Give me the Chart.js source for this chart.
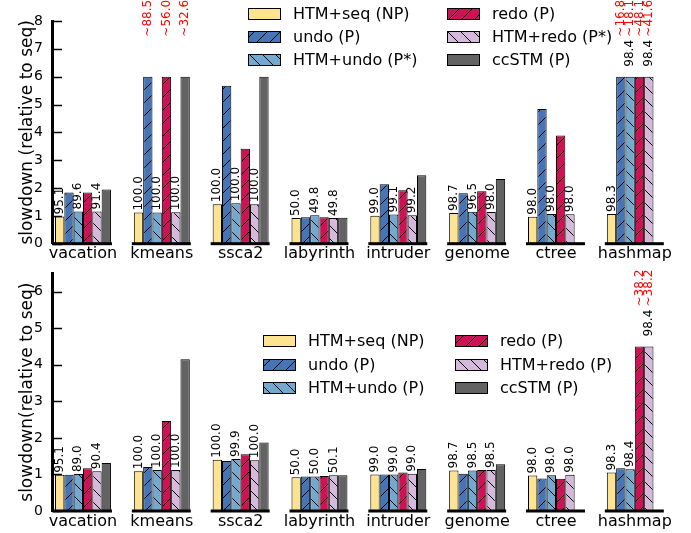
<!DOCTYPE html>
<html><head><meta charset="utf-8">
<script src="https://cdn.jsdelivr.net/npm/chart.js@4"></script>
<style>
html,body{margin:0;padding:0;background:#fff;}
#wrap{position:relative;width:691px;height:533px;overflow:hidden;}
canvas{display:block;}
</style></head><body>
<div id="wrap">
<canvas id="topChart" width="691" height="266"></canvas>
<canvas id="botChart" width="691" height="267"></canvas>
</div>
<script>
// ---------- DATA ----------
const categories = ['vacation','kmeans','ssca2','labyrinth','intruder','genome','ctree','hashmap'];
const topSeriesNames = ['HTM+seq (NP)','undo (P)','HTM+undo (P*)','redo (P)','HTM+redo (P*)','ccSTM (P)'];
const botSeriesNames = ['HTM+seq (NP)','undo (P)','HTM+undo (P)','redo (P)','HTM+redo (P)','ccSTM (P)'];
const topYTicksMax = 8;
const botYTicksMax = 6.5;

// top chart (bars above 6 are drawn cut at 6)
const topHtmSeq  = [0.98, 1.12, 1.42, 0.92, 1.00, 1.10, 0.97, 1.07];
const topUndo    = [1.84, 6.00, 5.67, 0.95, 2.14, 1.81, 4.84, 6.00];
const topHtmUndo = [1.16, 1.12, 1.45, 1.02, 1.05, 1.15, 1.07, 6.00];
const topRedo    = [1.84, 6.00, 3.41, 0.95, 1.92, 1.88, 3.89, 6.00];
const topHtmRedo = [1.16, 1.13, 1.42, 0.92, 1.02, 1.14, 1.06, 6.00];
const topCcstm   = [1.95, 6.00, 6.00, 0.93, 2.46, 2.32, null, null];

const topSeqLbl      = ['95.1','100.0','100.0','50.0','99.0','98.7','98.0','98.3'];
const topHtmUndoLbl  = ['89.6','100.0','100.0','49.8','99.1','96.5','98.0','98.4'];
const topHtmRedoLbl  = ['91.4','100.0','100.0','49.8','99.2','98.0','98.0','98.4'];
const topUndoCut     = [null,'~88.5',null,null,null,null,null,'~16.8'];
const topHtmUndoCut  = [null,null,null,null,null,null,null,'~18.1'];
const topRedoCut     = [null,'~56.0',null,null,null,null,null,'~48.1'];
const topHtmRedoCut  = [null,null,null,null,null,null,null,'~41.6'];
const topCcstmCut    = [null,'~32.6',null,null,null,null,null,null];

// bottom chart
const botHtmSeq  = [0.99, 1.09, 1.40, 0.92, 1.00, 1.11, 0.97, 1.05];
const botUndo    = [0.99, 1.20, 1.37, 0.94, 1.00, 1.02, 0.89, 1.17];
const botHtmUndo = [1.01, 1.12, 1.42, 0.94, 1.00, 1.11, 0.98, 1.14];
const botRedo    = [1.17, 2.46, 1.55, 0.96, 1.05, 1.12, 0.88, 4.50];
const botHtmRedo = [1.09, 1.12, 1.39, 0.98, 1.02, 1.12, 0.99, 4.50];
const botCcstm   = [1.31, 4.15, 1.87, 0.98, 1.15, 1.28, null, null];

const botSeqLbl      = ['95.1','100.0','100.0','50.0','99.0','98.7','98.0','98.3'];
const botHtmUndoLbl  = ['89.0','100.0','99.9','50.0','99.0','98.5','98.0','98.4'];
const botHtmRedoLbl  = ['90.4','100.0','100.0','50.1','99.0','98.5','98.0','98.4'];
const botRedoCut     = [null,null,null,null,null,null,null,'~38.2'];
const botHtmRedoCut  = [null,null,null,null,null,null,null,'~38.2'];

// ---------- STYLE ----------
const FONT = '"DejaVu Sans", sans-serif';
Chart.defaults.font.family = FONT;
const colors = ['#fee391','#4575b4','#74a9cf','#ce1256','#d4b9da','#636363'];
const hatches = [null,'/','\\','/','\\',null];
const CAT_PCT = 0.71;

function makeHatch(ctx, color, dir) {
  const s = 13;
  const c = document.createElement('canvas'); c.width = s; c.height = s;
  const g = c.getContext('2d');
  g.fillStyle = color; g.fillRect(0,0,s,s);
  if (dir) {
    g.strokeStyle = '#000'; g.lineWidth = 1;
    g.beginPath();
    for (let k=-1;k<=1;k++){
      if (dir === '/') { g.moveTo(k*s-1, s+1); g.lineTo(k*s+s+1, -1); }
      else { g.moveTo(k*s-1, -1); g.lineTo(k*s+s+1, s+1); }
    }
    g.stroke();
  }
  return ctx.createPattern(c, 'repeat');
}

function drawRot(ctx, text, x, y, color) {
  ctx.save();
  ctx.translate(x, y);
  ctx.rotate(-Math.PI/2);
  ctx.fillStyle = color;
  ctx.fillText(text, 0, 0);
  ctx.restore();
}

function buildChart(canvasId, names, seriesVals, ymax, padTop, xAxisH, title, blackLbls, redLbls, legendCols, legendRows) {
  const canvas = document.getElementById(canvasId);
  const ctx = canvas.getContext('2d');
  const patterns = colors.map((c,k)=>makeHatch(ctx, c, hatches[k]));
  const datasets = seriesVals.map((vals,k)=>({
    label: names[k],
    data: vals.map((v,i)=>({x:i, y:v})),
    backgroundColor: patterns[k],
    borderColor: '#000',
    borderWidth: 1,
    categoryPercentage: CAT_PCT,
    barPercentage: 1.0
  }));

  const hasRed = (d,i) => redLbls.some(([dd,arr]) => dd===d && arr[i]);

  const labelPlugin = {
    id: 'valueLabels',
    beforeDatasetsDraw(chart) {
      const c = chart.ctx;
      c.save();
      c.font = '12px ' + FONT;
      c.textAlign = 'left'; c.textBaseline = 'middle';
      blackLbls.forEach(([d, arr]) => {
        const meta = chart.getDatasetMeta(d);
        arr.forEach((t,i) => {
          if (!t) return;
          const el = meta.data[i];
          drawRot(c, t, el.x, el.y - (hasRed(d,i) ? 10 : 2), '#000');
        });
      });
      c.restore();
    },
    afterDatasetsDraw(chart) {
      const c = chart.ctx;
      const xs = chart.scales.x, ys = chart.scales.y;
      const area = chart.chartArea;
      c.save();
      c.font = '12px ' + FONT;
      c.textAlign = 'left'; c.textBaseline = 'middle';
      redLbls.forEach(([d, arr]) => {
        const meta = chart.getDatasetMeta(d);
        arr.forEach((t,i) => {
          if (!t) return;
          const el = meta.data[i];
          drawRot(c, t, el.x, el.y - 40, '#ff0000');
        });
      });
      c.strokeStyle = '#000'; c.lineWidth = 1.5;
      c.beginPath();
      ys.ticks.forEach(t => {
        const py = Math.round(ys.getPixelForValue(t.value)) + 0.5;
        c.moveTo(area.left, py); c.lineTo(area.left + 10, py);
      });
      c.stroke();
      const unit = xs.getPixelForValue(1) - xs.getPixelForValue(0);
      const y0 = ys.getPixelForValue(0);
      c.fillStyle = '#000';
      categories.forEach((cat,i) => {
        const cx = xs.getPixelForValue(i);
        const half = unit * CAT_PCT / 2;
        c.fillRect(cx - half - 2, y0 - 1.5, 2*half + 3, 3);
      });
      c.restore();
    },
    afterDraw(chart) {
      const c = chart.ctx;
      c.save();
      c.font = '16px ' + FONT;
      c.textAlign = 'left'; c.textBaseline = 'middle';
      chart.data.datasets.forEach((ds,k) => {
        const x = legendCols[Math.floor(k/3)], y = legendRows[k%3];
        c.fillStyle = ds.backgroundColor;
        c.fillRect(x, y-6, 33, 12);
        c.strokeStyle = '#000'; c.lineWidth = 1;
        c.strokeRect(x+0.5, y-5.5, 32, 11);
        c.fillStyle = '#000';
        c.fillText(ds.label, x + 45, y + 1);
      });
      c.restore();
    }
  };

  return new Chart(canvas, {
    type: 'bar',
    data: { datasets },
    options: {
      responsive: false, animation: false, devicePixelRatio: 1, events: [],
      layout: { padding: { top: padTop, left: 0, right: 1, bottom: 0 } },
      plugins: { legend: { display: false }, tooltip: { enabled: false } },
      scales: {
        x: {
          type: 'linear', min: -0.393, max: 7.7, offset: false,
          grid: { display: false, drawTicks: false, offset: false },
          border: { display: false },
          afterBuildTicks: s => { s.ticks = categories.map((c,i)=>({value:i})); },
          afterFit: s => { s.height = xAxisH; s.paddingLeft = 0; s.paddingRight = 0; },
          ticks: { autoSkip: false, maxRotation: 0, minRotation: 0, padding: 1, color: '#000',
                   font: { size: 16 }, callback: v => categories[v] }
        },
        y: {
          min: 0, max: ymax,
          grid: { display: false, drawTicks: false },
          border: { display: true, width: 3, color: '#000' },
          afterBuildTicks: s => { s.ticks = s.ticks.filter(t => Number.isInteger(t.value)); },
          afterFit: s => { s.width = 52; s.paddingTop = 0; s.paddingBottom = 0; },
          ticks: { stepSize: 1, padding: 9, color: '#000', font: { size: 14 } },
          title: { display: true, text: title, color: '#000', font: { size: 17 }, padding: { top: 17, bottom: 0 } }
        }
      }
    },
    plugins: [labelPlugin]
  });
}

buildChart('topChart', topSeriesNames,
  [topHtmSeq, topUndo, topHtmUndo, topRedo, topHtmRedo, topCcstm],
  topYTicksMax, 21, 22.3, 'slowdown (relative to seq)',
  [[0, topSeqLbl],[2, topHtmUndoLbl],[4, topHtmRedoLbl]],
  [[1, topUndoCut],[2, topHtmUndoCut],[3, topRedoCut],[4, topHtmRedoCut],[5, topCcstmCut]],
  [248, 447], [14, 37, 60]);

buildChart('botChart', botSeriesNames,
  [botHtmSeq, botUndo, botHtmUndo, botRedo, botHtmRedo, botCcstm],
  botYTicksMax, 7.3, 22, 'slowdown(relative to seq)',
  [[0, botSeqLbl],[2, botHtmUndoLbl],[4, botHtmRedoLbl]],
  [[3, botRedoCut],[4, botHtmRedoCut]],
  [263, 455], [75, 99, 122]);
</script>
</body></html>
